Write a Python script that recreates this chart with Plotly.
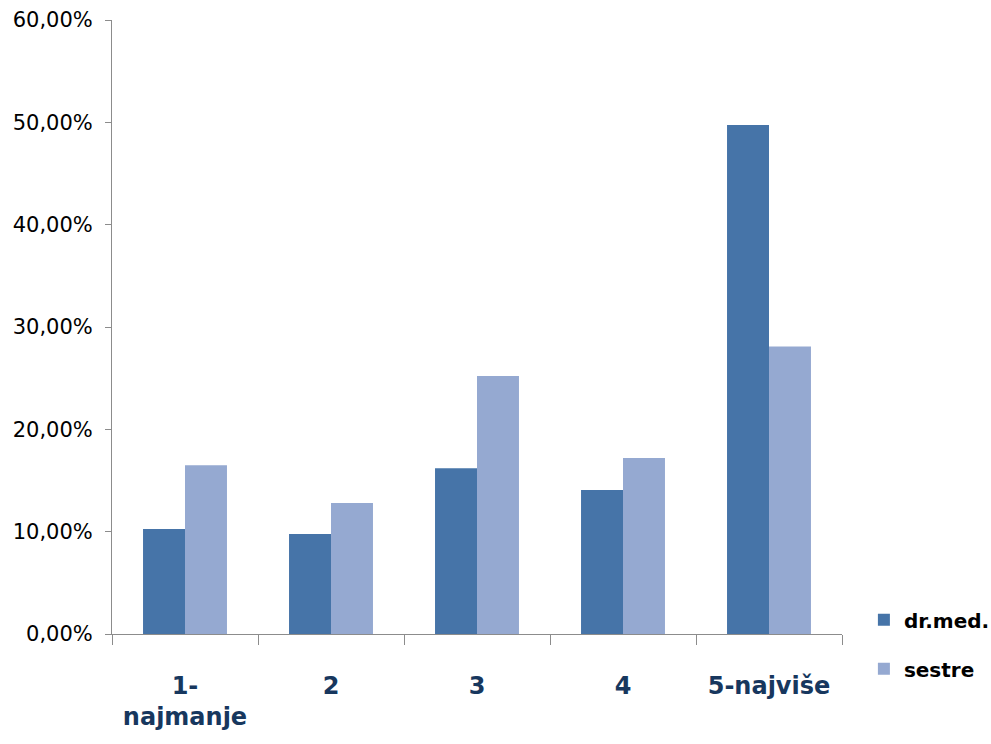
import plotly.graph_objects as go

# Survey answers on a 1-5 scale, share of respondents per group
categories = ["1-<br>najmanje", "2", "3", "4", "5-najviše"]
dr_med = [10.26, 9.77, 16.2, 14.07, 49.74]
sestre = [16.5, 12.8, 25.2, 17.2, 28.1]
y_ticks = [0, 10, 20, 30, 40, 50, 60]
y_tick_text = ["0,00%", "10,00%", "20,00%", "30,00%", "40,00%", "50,00%", "60,00%"]

fig = go.Figure()
fig.add_trace(go.Bar(x=categories, y=dr_med, name="dr.med.",
                     marker=dict(color="#4674A8", line=dict(width=0)),
                     legendgroup="a"))
fig.add_trace(go.Bar(x=categories, y=sestre, name="sestre",
                     marker=dict(color="#95A9D1", line=dict(width=0)),
                     legendgroup="b"))

axis_color = "#8C8C8C"
fig.update_layout(
    width=991, height=744,
    margin=dict(l=112, r=149, t=20, b=110, autoexpand=False),
    paper_bgcolor="white", plot_bgcolor="white",
    barmode="group", bargap=0.425, bargroupgap=0,
    showlegend=True,
    legend=dict(x=1.03, xanchor="left", y=0.055, yanchor="top",
                font=dict(family="DejaVu Sans", size=20, color="#000000", weight="bold"),
                tracegroupgap=20, traceorder="grouped", itemwidth=30),
    xaxis=dict(
        showline=True, linecolor=axis_color, linewidth=1,
        ticks="outside", tickson="boundaries", ticklen=10, tickcolor=axis_color,
        tickfont=dict(family="DejaVu Sans", size=24, color="#17375E", weight="bold"),
        ticklabelstandoff=30, automargin=False,
        showgrid=False, zeroline=False,
    ),
    yaxis=dict(
        range=[0, 60], tickvals=y_ticks, ticktext=y_tick_text,
        showline=True, linecolor=axis_color, linewidth=1,
        ticks="outside", ticklen=6, tickcolor=axis_color,
        tickfont=dict(family="DejaVu Sans", size=21, color="#000000"),
        ticklabelstandoff=8, automargin=False,
        showgrid=False, zeroline=False,
    ),
)

fig.write_html("out.html")
